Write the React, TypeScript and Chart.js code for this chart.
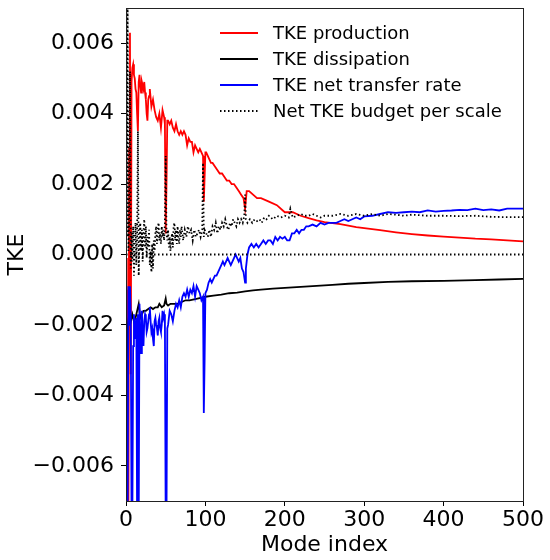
import { useEffect, useRef } from 'react';
import { Chart, registerables, type ChartConfiguration, type Plugin } from 'chart.js';

Chart.register(...registerables);

// Mode index samples and values
const prodX = [0, 1, 2, 3, 4, 5, 6, 7, 8, 9, 10, 11, 12, 13, 14, 15, 16, 17, 18, 19, 20, 21, 22, 23, 24, 25, 26, 27, 28, 29, 30, 32, 34, 36, 38, 40, 42, 44, 46, 48, 49, 50, 51, 52, 53, 55, 57, 59, 61, 63, 65, 67, 69, 71, 73, 75, 77, 79, 81, 83, 85, 87, 89, 91, 93, 95, 97, 98, 99, 100, 101, 103, 105, 107, 109, 112, 115, 118, 121, 124, 127, 130, 133, 136, 139, 142, 145, 148, 150, 152, 155, 160, 165, 170, 180, 190, 200, 210, 220, 230, 240, 250, 260, 270, 280, 290, 300, 320, 340, 360, 380, 400, 420, 440, 460, 480, 500];
const prodY = [-0.0001, -0.0076, -0.001, -0.0076, 0.003, 0.0063, -0.0034, 0.0049, 0.0053, 0.0054, 0.0051, 0.005, 0.0047, 0.0046, 0.004, 0.0035, 0.0049, 0.0051, 0.0048, 0.0046, 0.0049, 0.0048, 0.0047, 0.0049, 0.0046, 0.0044, 0.004, 0.0038, 0.0044, 0.0045, 0.0047, 0.0042, 0.0044, 0.0041, 0.0039, 0.0038, 0.004, 0.0036, 0.0041, 0.0039, 0.0037, 0.0006, 0.002, 0.0038, 0.0038, 0.0037, 0.0038, 0.0036, 0.0035, 0.0037, 0.0035, 0.0034, 0.0035, 0.0034, 0.0035, 0.0034, 0.0031, 0.0033, 0.0032, 0.0032, 0.0029, 0.0031, 0.003, 0.0029, 0.003, 0.0029, 0.0028, 0.0015, 0.0022, 0.0029, 0.0029, 0.0028, 0.0027, 0.0026, 0.0026, 0.0025, 0.0024, 0.0023, 0.0023, 0.0022, 0.0021, 0.0021, 0.002, 0.002, 0.0019, 0.0018, 0.0017, 0.0016, 0.0013, 0.0018, 0.0018, 0.0017, 0.0016, 0.0016, 0.0015, 0.0014, 0.0012, 0.0012, 0.0011, 0.00103, 0.00097, 0.00092, 0.00089, 0.00086, 0.00082, 0.00078, 0.00075, 0.00069, 0.00063, 0.00058, 0.00054, 0.00051, 0.00048, 0.00045, 0.00043, 0.0004, 0.00037];

const dissX = [0, 1, 2, 3, 4, 5, 6, 8, 10, 12, 14, 16, 18, 20, 22, 25, 28, 31, 34, 37, 40, 42, 45, 48, 50, 51, 53, 56, 60, 65, 70, 75, 80, 90, 100, 110, 120, 130, 140, 150, 160, 170, 185, 200, 220, 240, 260, 280, 300, 330, 360, 400, 440, 470, 500];
const dissY = [-0.0076, -0.003, -0.0021, -0.0019, -0.0017, -0.0016, -0.0019, -0.0017, -0.0019, -0.0018, -0.0016, -0.0014, -0.0018, -0.0017, -0.0016, -0.0016, -0.00155, -0.0015, -0.00155, -0.0015, -0.0015, -0.0014, -0.0015, -0.00145, -0.00125, -0.0014, -0.00145, -0.0014, -0.0014, -0.0014, -0.00135, -0.0013, -0.0013, -0.00125, -0.0012, -0.00117, -0.00114, -0.0011, -0.00108, -0.00105, -0.00102, -0.001, -0.00097, -0.00095, -0.00092, -0.00089, -0.00086, -0.00083, -0.00081, -0.00078, -0.00076, -0.00075, -0.00073, -0.00071, -0.00069];

const netX = [0, 2, 3, 4, 5, 6, 7, 8, 9, 10, 11, 12, 13, 14, 15, 16, 17, 18, 19, 20, 21, 22, 23, 24, 25, 26, 27, 28, 29, 30, 31, 32, 33, 34, 35, 36, 37, 38, 39, 40, 41, 42, 43, 44, 45, 46, 47, 48, 49, 50, 51, 52, 53, 55, 57, 59, 61, 63, 65, 67, 69, 71, 73, 75, 77, 79, 81, 83, 85, 87, 89, 91, 93, 95, 97, 98, 99, 100, 102, 104, 106, 108, 110, 112, 114, 116, 118, 120, 122, 124, 126, 128, 130, 132, 134, 136, 138, 140, 142, 144, 146, 148, 150, 151, 153, 155, 158, 161, 164, 167, 170, 173, 176, 179, 182, 185, 188, 191, 194, 197, 200, 203, 206, 209, 212, 215, 218, 221, 224, 227, 230, 235, 240, 245, 250, 255, 260, 265, 270, 275, 280, 285, 290, 295, 300, 310, 320, 330, 340, 350, 360, 370, 380, 390, 400, 410, 420, 430, 440, 450, 460, 470, 480, 490, 500];
const netY = [-0.0076, -0.0076, -0.0009, -0.002, -0.0009, -0.0018, -0.0076, -0.0076, -0.0026, -0.0017, -0.0024, -0.002, -0.0018, -0.0076, -0.0017, -0.0076, -0.0014, -0.0022, -0.0028, -0.0016, -0.0023, -0.0026, -0.0019, -0.0017, -0.0018, -0.0022, -0.0021, -0.0019, -0.0017, -0.0015, -0.0019, -0.0022, -0.0021, -0.0024, -0.0026, -0.0019, -0.0018, -0.002, -0.0021, -0.0023, -0.0019, -0.0018, -0.0021, -0.0022, -0.002, -0.0016, -0.0018, -0.0017, -0.0019, -0.0076, -0.0076, -0.0021, -0.002, -0.0016, -0.0017, -0.0019, -0.0016, -0.0014, -0.0015, -0.0013, -0.0015, -0.0012, -0.0011, -0.0012, -0.001, -0.0012, -0.001, -0.0011, -0.0009, -0.0012, -0.0009, -0.001, -0.0011, -0.0013, -0.0012, -0.0045, -0.003, -0.0011, -0.001, -0.0008, -0.0007, -0.0008, -0.0007, -0.0006, -0.0006, -0.0005, -0.0004, -0.0003, -0.0002, -0.0003, -0.0002, -0.0001, -0.0002, -0.0003, -0.0002, -0.0001, 0, -0.0001, -0.0002, -0.0001, -0.0004, -0.0005, -0.0008, -0.0004, 0, 0.0002, 0.0003, 0.0002, 0.0003, 0.0002, 0.0003, 0.0004, 0.0003, 0.0004, 0.0004, 0.0003, 0.0005, 0.0004, 0.0005, 0.00045, 0.0005, 0.0004, 0.0004, 0.0006, 0.0006, 0.0007, 0.0006, 0.0007, 0.0007, 0.0008, 0.0008, 0.00085, 0.0008, 0.0009, 0.00085, 0.0009, 0.0009, 0.0009, 0.00095, 0.001, 0.00095, 0.001, 0.00105, 0.001, 0.00108, 0.0011, 0.00115, 0.0012, 0.00118, 0.0012, 0.00122, 0.0012, 0.00125, 0.00122, 0.00124, 0.00125, 0.00127, 0.00126, 0.0013, 0.00126, 0.00128, 0.00125, 0.0013, 0.0013, 0.0013];

const budX = [0, 1, 2, 3, 4, 5, 6, 7, 8, 9, 10, 11, 12, 13, 14, 15, 16, 17, 18, 19, 20, 21, 22, 23, 24, 25, 26, 27, 28, 29, 30, 31, 32, 33, 34, 35, 36, 37, 38, 39, 40, 41, 42, 43, 44, 45, 46, 47, 48, 49, 50, 51, 52, 53, 54, 55, 56, 57, 58, 59, 60, 61, 62, 63, 64, 65, 66, 67, 68, 69, 70, 72, 74, 76, 78, 80, 82, 84, 86, 88, 90, 92, 94, 96, 97, 98, 99, 101, 103, 105, 107, 109, 111, 113, 115, 117, 119, 121, 123, 125, 127, 129, 131, 133, 135, 137, 139, 141, 143, 145, 147, 149, 150, 151, 153, 156, 159, 162, 165, 168, 171, 174, 177, 180, 185, 190, 195, 200, 205, 207, 210, 215, 220, 225, 230, 235, 240, 245, 250, 260, 270, 280, 290, 300, 310, 320, 330, 340, 350, 360, 380, 400, 420, 440, 460, 480, 500];
const budY = [0.0076, 0.0005, 0.0076, 0.0001, 0.001, 0.0052, -0.0004, 0.0006, -0.0002, 0.0008, -0.0006, 0.0003, 0.0009, -0.0003, 0.0005, 0.0035, -0.0006, 0.0004, 0.0009, 0.0001, 0.0007, -0.0002, 0.0006, 0.001, 0.0002, 0.0008, -0.0001, 0.0005, 0.0002, 0.0007, -0.0003, 0.0001, -0.0005, 0.0003, -0.0004, 0.0004, 0.0001, 0.0006, 0.0008, 0.0003, 0.0007, 0.0009, 0.0004, 0.0006, 0.0003, 0.0008, 0.0005, 0.0007, 0.0004, 0.0009, 0.0028, 0.0006, 0.0004, 0.0007, 0.0002, 0.0005, 0.0001, 0.0004, 0.0006, 0.0002, 0.0008, 0.0009, 0.0004, 0.0007, 0.0003, 0.0008, 0.0005, 0.0003, 0.0007, 0.0005, 0.0008, 0.0004, 0.0007, 0.0005, 0.0008, 0.0006, 0.0007, 0.0004, 0.0007, 0.0005, 0.0006, 0.0007, 0.0005, 0.0007, 0.0026, 0.0005, 0.0007, 0.0006, 0.0005, 0.0007, 0.0005, 0.0008, 0.0007, 0.0009, 0.0006, 0.0008, 0.0007, 0.0009, 0.0008, 0.001, 0.0008, 0.0007, 0.0009, 0.0008, 0.001, 0.0009, 0.0008, 0.001, 0.0009, 0.001, 0.0009, 0.0011, 0.0017, 0.001, 0.0009, 0.001, 0.0009, 0.001, 0.00095, 0.001, 0.0009, 0.00105, 0.001, 0.0011, 0.001, 0.0011, 0.00105, 0.0011, 0.00105, 0.0013, 0.00105, 0.0011, 0.00115, 0.0011, 0.0011, 0.00115, 0.0011, 0.00105, 0.0011, 0.0011, 0.00115, 0.0011, 0.00115, 0.0011, 0.00115, 0.0011, 0.00115, 0.00113, 0.0011, 0.00113, 0.0011, 0.0011, 0.00109, 0.0011, 0.00107, 0.00106, 0.00106];

const xTicks = [0, 100, 200, 300, 400, 500];
const yTicks = [-0.006, -0.004, -0.002, 0, 0.002, 0.004, 0.006];

const FONT = "'DejaVu Sans', sans-serif";
const DOT = [1.5, 2.5];

const pts = (xs: number[], ys: number[]) => xs.map((x, i) => ({ x, y: ys[i] }));

const framePlugin: Plugin<'line'> = {
  id: 'frame',
  afterDraw(chart) {
    const { ctx, chartArea: a } = chart;
    ctx.save();
    ctx.strokeStyle = '#222';
    ctx.lineWidth = 1;
    ctx.strokeRect(Math.round(a.left) + 0.5, Math.round(a.top) + 0.5, Math.round(a.width), Math.round(a.height));
    ctx.restore();
  },
};

// matplotlib-style legend, unframed, inside the upper right of the axes
const insetLegend: Plugin<'line'> = {
  id: 'insetLegend',
  afterDraw(chart) {
    const { ctx, chartArea: a } = chart;
    ctx.save();
    ctx.font = `18px ${FONT}`;
    ctx.textBaseline = 'middle';
    ctx.fillStyle = '#000';
    chart.data.datasets.forEach((ds: any, i) => {
      if (!ds.label) return;
      const y = a.top + 25 + i * 26;
      ctx.beginPath();
      ctx.strokeStyle = ds.borderColor;
      ctx.lineWidth = 1.8;
      ctx.setLineDash(ds.borderDash || []);
      ctx.moveTo(a.left + 94, y);
      ctx.lineTo(a.left + 132, y);
      ctx.stroke();
      ctx.setLineDash([]);
      ctx.fillText(ds.label, a.left + 147, y + 1);
    });
    ctx.restore();
  },
};

const fmt = (v: number) => (v < 0 ? '\u2212' : '') + Math.abs(v).toFixed(3);

export default function App() {
  const canvasRef = useRef<HTMLCanvasElement>(null);

  useEffect(() => {
    if (!canvasRef.current) return;
    const line = (label: string, data: { x: number; y: number }[], color: string, order: number, dash?: number[]) => ({
      label,
      data,
      borderColor: color,
      backgroundColor: color,
      borderWidth: 1.8,
      borderDash: dash,
      pointRadius: 0,
      tension: 0,
      order,
    });

    const config: ChartConfiguration<'line'> = {
      type: 'line',
      data: {
        datasets: [
          line('TKE production', pts(prodX, prodY), '#ff0000', 5),
          line('TKE dissipation', pts(dissX, dissY), '#000000', 4),
          line('TKE net transfer rate', pts(netX, netY), '#0000ff', 3),
          line('Net TKE budget per scale', pts(budX, budY), '#000000', 2, DOT),
          line('', pts([xTicks[0], xTicks[xTicks.length - 1]], [0, 0]), '#000000', 1, DOT),
        ] as any,
      },
      options: {
        animation: false,
        responsive: true,
        maintainAspectRatio: false,
        layout: { padding: { top: 8, right: 27, left: 0, bottom: 0 } },
        plugins: { legend: { display: false }, tooltip: { enabled: false } },
        scales: {
          x: {
            type: 'linear',
            min: 0,
            max: 500,
            afterBuildTicks: (s) => { s.ticks = xTicks.map((value) => ({ value })); },
            afterFit: (s: any) => { s.height = 59; s.paddingLeft = 0; s.paddingRight = 0; },
            ticks: { font: { family: FONT, size: 22 }, color: '#000', padding: 1, maxRotation: 0, autoSkip: false },
            grid: { drawOnChartArea: false, drawTicks: true, tickLength: 5, color: '#000' },
            border: { display: false },
            title: { display: true, text: 'Mode index', font: { family: FONT, size: 22 }, color: '#000', padding: { top: 0, bottom: 2 } },
          },
          y: {
            type: 'linear',
            min: -0.007,
            max: 0.007,
            afterBuildTicks: (s) => { s.ticks = yTicks.map((value) => ({ value })); },
            afterFit: (s: any) => { s.width = 126; s.paddingTop = 0; s.paddingBottom = 0; },
            ticks: { font: { family: FONT, size: 22 }, color: '#000', padding: 7, callback: (v) => fmt(Number(v)) },
            grid: { drawOnChartArea: false, drawTicks: true, tickLength: 5, color: '#000' },
            border: { display: false },
            title: { display: true, text: 'TKE', font: { family: FONT, size: 22 }, color: '#000', padding: { top: 4, bottom: 0 } },
          },
        },
      },
      plugins: [framePlugin, insetLegend],
    };

    const chart = new Chart(canvasRef.current, config);
    return () => chart.destroy();
  }, []);

  return (
    <div style={{ position: 'absolute', left: 0, top: 0, width: 550, height: 560, background: '#fff' }}>
      <canvas ref={canvasRef} />
    </div>
  );
}
